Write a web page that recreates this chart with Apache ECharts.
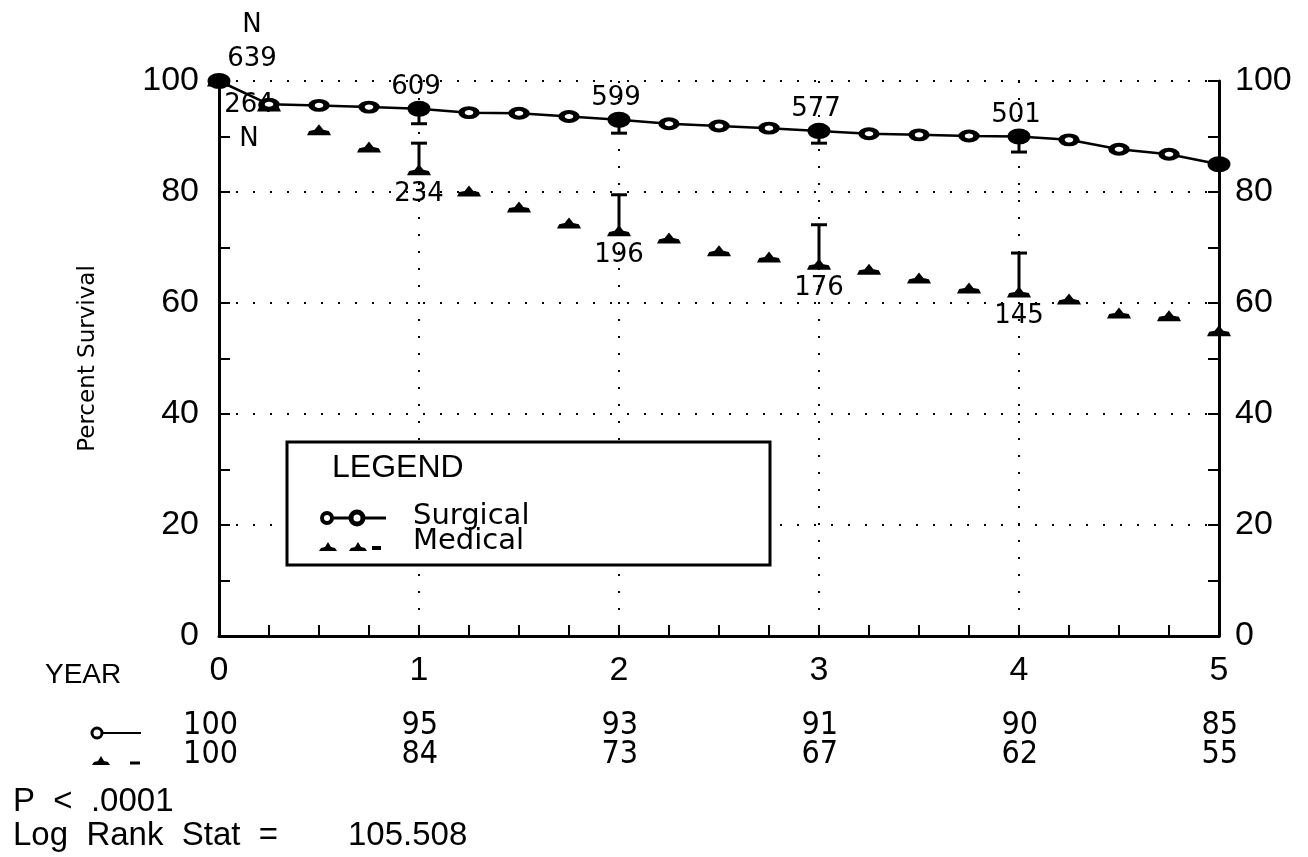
<!DOCTYPE html>
<html>
<head>
<meta charset="utf-8">
<script src="https://cdn.jsdelivr.net/npm/echarts@6/dist/echarts.min.js"></script>
<style>
  html, body { margin: 0; padding: 0; background: #fff; }
  #chart { width: 1308px; height: 857px; }
</style>
</head>
<body>
<div id="chart"></div>
<script>
// Kaplan-Meier style survival, surgical vs medical therapy (quarter-year steps)
const years = [0, 0.25, 0.5, 0.75, 1, 1.25, 1.5, 1.75, 2, 2.25, 2.5, 2.75, 3, 3.25, 3.5, 3.75, 4, 4.25, 4.5, 4.75, 5];
const surgical = [100, 95.8, 95.6, 95.3, 95, 94.3, 94.2, 93.6, 93, 92.3, 91.9, 91.5, 91, 90.5, 90.3, 90.1, 90, 89.4, 87.7, 86.8, 85];
const medical = [100, 95.5, 91.2, 88.1, 84, 80.2, 77.3, 74.4, 73, 71.7, 69.4, 68.3, 67, 66.1, 64.5, 62.7, 62, 60.7, 58.2, 57.7, 55];

// patients at risk
const nYears = [0, 1, 2, 3, 4];
const nSurgical = [639, 609, 599, 577, 501];
const nMedical = [264, 234, 196, 176, 145];

// error bars at whole years (surgical lower limit, medical upper limit)
const errYears = [1, 2, 3, 4];
const surgicalLower = [92.3, 90.6, 88.8, 87.2];
const medicalUpper = [88.8, 79.5, 74.1, 69.0];

// table years
const tableYears = [0, 1, 2, 3, 4, 5];

const FONT = '"Liberation Sans", sans-serif';
const FONT_D = '"DejaVu Sans", sans-serif';
const FONT_C = '"DejaVu Sans Condensed", "DejaVu Sans", sans-serif';

const valueAt = (arr, y) => arr[years.indexOf(y)];

const surgicalData = years.map((x, i) => {
  const whole = Number.isInteger(x);
  return {
    value: [x, surgical[i]],
    symbolSize: whole ? [17, 12] : [15, 9],
    itemStyle: { color: whole ? '#000' : '#fff' }
  };
});
const medicalData = years.map((x, i) => [x, medical[i]]);

const surgErr = errYears.map((x, i) => [x, valueAt(surgical, x), surgicalLower[i]]);
const medErr = errYears.map((x, i) => [x, valueAt(medical, x), medicalUpper[i]]);

const nSurgData = nYears.map((x, i) => [x, valueAt(surgical, x), nSurgical[i]]);
const nMedData = nYears.map((x, i) => [x, valueAt(medical, x), nMedical[i]]);

const boatPath = 'path://M0,10 L2,6 L7,5 L11,0 L15,5 L20,6 L22,10 Z';

function errorBar(params, api) {
  const a = api.coord([api.value(0), api.value(1)]);
  const b = api.coord([api.value(0), api.value(2)]);
  const style = { stroke: '#000', lineWidth: 3 };
  return {
    type: 'group',
    children: [
      { type: 'line', shape: { x1: a[0], y1: a[1], x2: b[0], y2: b[1] }, style },
      { type: 'line', shape: { x1: b[0] - 8, y1: b[1], x2: b[0] + 8, y2: b[1] }, style }
    ]
  };
}

const dotted = { color: '#000', width: 2, type: [2, 15] };
const labelBase = { color: '#000', opacity: 1, fontFamily: FONT_D, fontSize: 26, lineHeight: 34 };

const chart = echarts.init(document.getElementById('chart'));
const option = {
  animation: false,
  backgroundColor: '#fff',
  textStyle: { fontFamily: FONT, color: '#000' },
  grid: { left: 219, right: 89, top: 81, bottom: 221 },
  xAxis: {
    type: 'value', min: 0, max: 5, interval: 1,
    axisLine: { lineStyle: { color: '#000', width: 3 } },
    axisTick: { inside: true, length: 11, lineStyle: { color: '#000', width: 2 } },
    minorTick: { show: true, splitNumber: 4, length: 11, lineStyle: { color: '#000', width: 2 } },
    axisLabel: { fontSize: 34, color: '#000', margin: 18, fontFamily: FONT },
    splitLine: { show: true, showMinLine: false, showMaxLine: false, lineStyle: dotted }
  },
  yAxis: [
    {
      type: 'value', min: 0, max: 100, interval: 20, position: 'left',
      axisLine: { show: true, lineStyle: { color: '#000', width: 3 } },
      axisTick: { show: true, inside: true, length: 11, lineStyle: { color: '#000', width: 2 } },
      minorTick: { show: true, splitNumber: 2, length: 11, lineStyle: { color: '#000', width: 2 } },
      axisLabel: { fontSize: 34, color: '#000', margin: 20, fontFamily: FONT },
      splitLine: { show: true, showMinLine: false, lineStyle: dotted }
    },
    {
      type: 'value', min: 0, max: 100, interval: 20, position: 'right',
      axisLine: { show: true, lineStyle: { color: '#000', width: 3 } },
      axisTick: { show: true, inside: true, length: 11, lineStyle: { color: '#000', width: 2 } },
      minorTick: { show: true, splitNumber: 2, length: 11, lineStyle: { color: '#000', width: 2 } },
      axisLabel: { fontSize: 34, color: '#000', margin: 16, fontFamily: FONT },
      splitLine: { show: false }
    }
  ],
  series: [
    {
      name: 'N surgical', type: 'scatter', data: nSurgData, z: 1,
      symbolSize: 1, itemStyle: { color: 'rgba(0,0,0,0)', opacity: 1 }, silent: true,
      label: Object.assign({}, labelBase, {
        show: true, position: 'top', distance: 4,
        formatter: p => (p.dataIndex === 0 ? 'N\n' : '') + p.value[2]
      }),
      labelLayout: p => (p.dataIndex === 0 ? { dx: 33 } : { dx: -3 })
    },
    {
      name: 'N medical', type: 'scatter', data: nMedData, z: 1,
      symbolSize: 1, itemStyle: { color: 'rgba(0,0,0,0)', opacity: 1 }, silent: true,
      label: Object.assign({}, labelBase, {
        show: true, position: 'bottom', distance: 7,
        formatter: p => p.value[2] + (p.dataIndex === 0 ? '\nN' : '')
      }),
      labelLayout: p => (p.dataIndex === 0 ? { dx: 30 } : { dx: 0 })
    },
    {
      name: 'Medical error', type: 'custom', renderItem: errorBar, data: medErr, z: 2, silent: true
    },
    {
      name: 'Surgical error', type: 'custom', renderItem: errorBar, data: surgErr, z: 2, silent: true
    },
    {
      name: 'Medical', type: 'scatter', data: medicalData, z: 3,
      symbol: boatPath, symbolSize: [24, 11],
      itemStyle: { color: '#000', opacity: 1 }
    },
    {
      name: 'Surgical', type: 'line', data: surgicalData, z: 4,
      symbol: 'circle',
      lineStyle: { color: '#000', width: 2.5 },
      itemStyle: { borderColor: '#000', borderWidth: 5, opacity: 1 }
    }
  ]
};
chart.setOption(option);

// legend box, axis title, year table and test statistics
function drawAnnotations() {
  const px = v => chart.convertToPixel({ gridIndex: 0 }, v);
  const base = px([0, 0])[1];
  const g = [];

  g.push({
    type: 'text', x: 88, y: (px([0, 100])[1] + base) / 2, rotation: Math.PI / 2,
    style: { text: 'Percent Survival', font: '23px ' + FONT_D, fill: '#000', align: 'center', verticalAlign: 'middle' }
  });

  // legend
  const L = { x: 287, y: 442, w: 483, h: 123 };
  g.push({ type: 'rect', shape: { x: L.x, y: L.y, width: L.w, height: L.h }, style: { fill: '#fff', stroke: '#000', lineWidth: 3 }, z: 50 });
  g.push({ type: 'text', x: 332, y: 468, style: { text: 'LEGEND', font: '32px ' + FONT, fill: '#000', verticalAlign: 'middle' }, z: 51 });
  const rowS = 518, rowM = 547;
  g.push({ type: 'line', shape: { x1: 327, y1: rowS, x2: 386, y2: rowS }, style: { stroke: '#000', lineWidth: 3 }, z: 51 });
  g.push({ type: 'circle', shape: { cx: 327, cy: rowS, r: 5 }, style: { fill: '#fff', stroke: '#000', lineWidth: 4 }, z: 52 });
  g.push({ type: 'circle', shape: { cx: 357, cy: rowS, r: 6 }, style: { fill: '#fff', stroke: '#000', lineWidth: 5 }, z: 52 });
  g.push({ type: 'text', x: 413, y: 516, style: { text: 'Surgical', font: '29px ' + FONT_D, fill: '#000', verticalAlign: 'middle' }, z: 51 });
  const boat = (cx, cy, z) => ({
    type: 'polygon', z,
    shape: { points: [[cx - 9, cy + 4], [cx - 7, cy + 1], [cx - 3, cy], [cx, cy - 5], [cx + 3, cy], [cx + 7, cy + 1], [cx + 9, cy + 4]] },
    style: { fill: '#000' }
  });
  g.push(boat(328, rowM, 52));
  g.push(boat(358, rowM, 52));
  g.push({ type: 'line', shape: { x1: 372, y1: rowM + 1, x2: 381, y2: rowM + 1 }, style: { stroke: '#000', lineWidth: 4 }, z: 51 });
  g.push({ type: 'text', x: 413, y: 541, style: { text: 'Medical', font: '29px ' + FONT_D, fill: '#000', verticalAlign: 'middle' }, z: 51 });

  // year table
  const r1 = base + 90, r2 = base + 119;
  g.push({ type: 'text', x: 45, y: base + 39, style: { text: 'YEAR', font: '28px ' + FONT, fill: '#000', verticalAlign: 'middle' } });
  g.push({ type: 'line', shape: { x1: 100, y1: r1 + 7, x2: 141, y2: r1 + 7 }, style: { stroke: '#000', lineWidth: 2 } });
  g.push({ type: 'circle', shape: { cx: 97, cy: r1 + 7, r: 5 }, style: { fill: '#fff', stroke: '#000', lineWidth: 3 } });
  g.push(boat(101, r2 + 6, 1));
  g.push({ type: 'line', shape: { x1: 130, y1: r2 + 8, x2: 140, y2: r2 + 8 }, style: { stroke: '#000', lineWidth: 3 } });
  tableYears.forEach(y => {
    const x = px([y, 0])[0] + 19;
    g.push({ type: 'text', x, y: r1, style: { text: String(Math.round(valueAt(surgical, y))), font: '32px ' + FONT_C, fill: '#000', align: 'right', verticalAlign: 'middle' } });
    g.push({ type: 'text', x, y: r2, style: { text: String(Math.round(valueAt(medical, y))), font: '32px ' + FONT_C, fill: '#000', align: 'right', verticalAlign: 'middle' } });
  });

  g.push({ type: 'text', x: 13, y: 802, style: { text: 'P  <  .0001', font: '33px ' + FONT, fill: '#000', verticalAlign: 'middle' } });
  g.push({ type: 'text', x: 13, y: 836, style: { text: 'Log  Rank  Stat  =', font: '33px ' + FONT, fill: '#000', verticalAlign: 'middle' } });
  g.push({ type: 'text', x: 348, y: 836, style: { text: '105.508', font: '33px ' + FONT, fill: '#000', verticalAlign: 'middle' } });

  chart.setOption({ graphic: g });
}
drawAnnotations();
</script>
</body>
</html>
